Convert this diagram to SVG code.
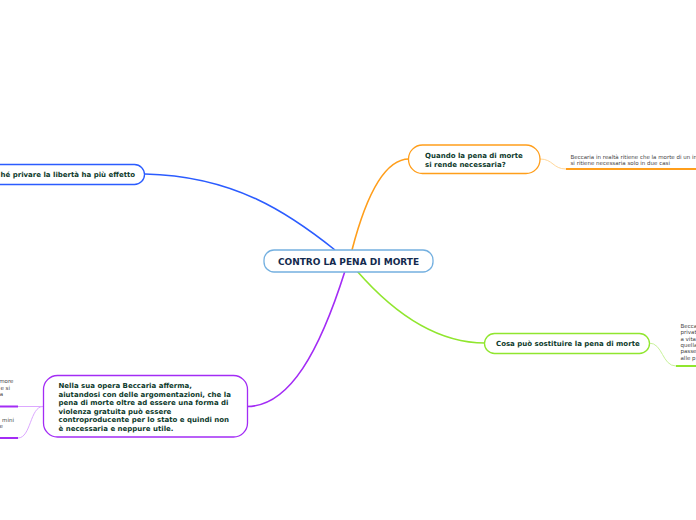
<svg xmlns="http://www.w3.org/2000/svg" width="696" height="520" viewBox="0 0 696 520">
<style>
.bg{fill:#ffffff}
.node{fill:#ffffff;stroke-width:1.3}
.t{font-family:"DejaVu Sans",Verdana,sans-serif;font-weight:bold;font-size:7px;fill:#0d3a2c}
.ct{font-family:"DejaVu Sans",Verdana,sans-serif;font-weight:bold;font-size:9px;fill:#132a4e}
.s{font-family:"DejaVu Sans",Verdana,sans-serif;font-size:5.5px;fill:#444444}
.c{fill:none}
.blue{stroke:#2b5cff}
.orange{stroke:#ff9e1b}
.green{stroke:#90e62e}
.purple{stroke:#a32cf5}
.lorange{stroke:#ffd79a}
.lgreen{stroke:#c8f29a}
.lpurple{stroke:#dca8ff}
</style>
<rect class="bg" x="0" y="0" width="696" height="520"/>
<g id="connectors">
<path class="c blue" d="M145,174 C235,176 290,214 335,250" stroke-width="1.6"/>
<path class="c orange" d="M352,250 C365,200 383,159 409,159" stroke-width="1.6"/>
<path class="c green" d="M357,271 C398,318 440,343 485,343" stroke-width="1.6"/>
<path class="c purple" d="M345,271 C320,350 290,406.5 247,406.5" stroke-width="1.6"/>
<path class="c lorange" d="M540,159 C553,159 553,169 566,169" stroke-width="1"/>
<path class="c orange" d="M566,169 L696,169" stroke-width="2"/>
<path class="c lgreen" d="M649,343 C663,343 662,366 676,366" stroke-width="1"/>
<path class="c green" d="M676,366 L696,366" stroke-width="2"/>
<path class="c lpurple" d="M43,406.5 L18,406.5" stroke-width="1"/>
<path class="c lpurple" d="M43,406.5 C30,406.5 31,438 18,438" stroke-width="1"/>
<path class="c purple" d="M0,406.5 L18,406.5" stroke-width="2"/>
<path class="c purple" d="M0,438 L18,438" stroke-width="2"/>
</g>
<g id="center">
<rect class="node" x="264" y="250" width="169" height="22" rx="10" stroke="#74b0e0"/>
<text class="ct" x="348.5" y="265" text-anchor="middle">CONTRO LA PENA DI MORTE</text>
</g>
<g id="node-liberta">
<rect class="node blue" x="-60" y="164.5" width="204.5" height="20" rx="10"/>
<text class="t" x="0.5" y="177">hé privare la libertà ha più effetto</text>
</g>
<g id="node-quando">
<rect class="node orange" x="408.5" y="145" width="131.5" height="28.5" rx="14"/>
<text class="t" x="425" y="158">Quando la pena di morte</text>
<text class="t" x="425" y="167">si rende necessaria?</text>
</g>
<g id="note-quando">
<text class="s" x="570.5" y="158.5">Beccaria in realtà ritiene che la morte di un in</text>
<text class="s" x="570.5" y="164.8">si ritiene necessaria solo in due casi</text>
</g>
<g id="node-cosa">
<rect class="node green" x="484.5" y="333.5" width="165" height="20" rx="10"/>
<text class="t" x="496" y="346">Cosa può sostituire la pena di morte</text>
</g>
<g id="note-cosa">
<text class="s" x="680.5" y="328">Becca</text>
<text class="s" x="680.5" y="334.3">privat</text>
<text class="s" x="680.5" y="340.6">a vita</text>
<text class="s" x="680.5" y="346.9">quella</text>
<text class="s" x="680.5" y="353.2">passe</text>
<text class="s" x="680.5" y="359.5">alle p</text>
</g>
<g id="node-beccaria">
<rect class="node purple" x="43.5" y="375.5" width="204" height="61.5" rx="14"/>
<text class="t" x="58.5" y="388">Nella sua opera Beccaria afferma,</text>
<text class="t" x="58.5" y="396.5">aiutandosi con delle argomentazioni, che la</text>
<text class="t" x="58.5" y="405">pena di morte oltre ad essere una forma di</text>
<text class="t" x="58.5" y="413.5">violenza gratuita può essere</text>
<text class="t" x="58.5" y="422">controproducente per lo stato e quindi non</text>
<text class="t" x="58.5" y="430.5">è necessaria e neppure utile.</text>
</g>
<g id="note-beccaria-1">
<text class="s" x="13.5" y="383.3" text-anchor="end">more</text>
<text class="s" x="10" y="389.6" text-anchor="end">e si</text>
<text class="s" x="3" y="395.9" text-anchor="end">a</text>
</g>
<g id="note-beccaria-2">
<text class="s" x="14" y="421.5" text-anchor="end">mini</text>
<text class="s" x="3" y="427.8" text-anchor="end">e</text>
</g>
</svg>
